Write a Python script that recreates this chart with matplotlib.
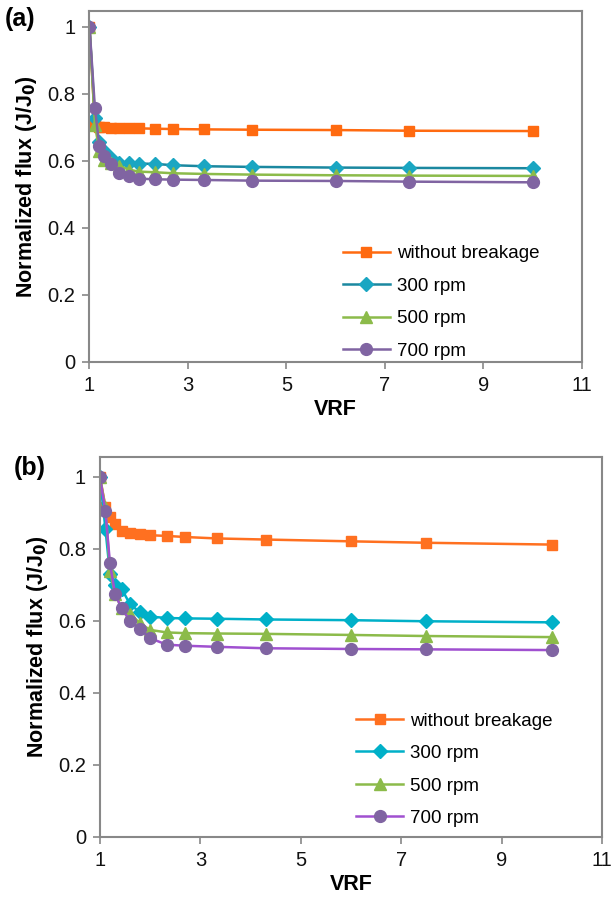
import matplotlib
matplotlib.use("Agg")
import matplotlib.pyplot as plt
from matplotlib.ticker import FuncFormatter

plt.rcParams['font.family'] = ['Liberation Sans', 'DejaVu Sans']

# Volume reduction factor
vrf = [1.0, 1.11, 1.2, 1.3, 1.43, 1.6, 1.8, 2.0, 2.33, 2.7, 3.33, 4.3, 6.0, 7.5, 10.0]

# (a) normalized flux
no_break_a = [1.0, 0.706, 0.702, 0.700, 0.699, 0.698, 0.698, 0.697, 0.696, 0.695, 0.694, 0.693, 0.692, 0.690, 0.689]
rpm300_a = [1.0, 0.728, 0.656, 0.630, 0.610, 0.594, 0.593, 0.592, 0.591, 0.587, 0.584, 0.582, 0.580, 0.579, 0.578]
rpm500_a = [1.0, 0.708, 0.630, 0.602, 0.593, 0.585, 0.574, 0.568, 0.566, 0.563, 0.561, 0.559, 0.557, 0.556, 0.555]
rpm700_a = [1.0, 0.757, 0.645, 0.614, 0.590, 0.564, 0.554, 0.547, 0.545, 0.544, 0.543, 0.541, 0.540, 0.538, 0.536]

# (b) normalized flux
no_break_b = [1.0, 0.917, 0.889, 0.868, 0.849, 0.843, 0.841, 0.838, 0.836, 0.833, 0.829, 0.826, 0.821, 0.817, 0.812]
rpm300_b = [1.0, 0.855, 0.731, 0.700, 0.690, 0.646, 0.624, 0.612, 0.608, 0.607, 0.606, 0.604, 0.602, 0.599, 0.596]
rpm500_b = [1.0, 0.915, 0.738, 0.676, 0.635, 0.620, 0.593, 0.575, 0.568, 0.566, 0.565, 0.564, 0.561, 0.558, 0.555]
rpm700_b = [1.0, 0.904, 0.760, 0.676, 0.635, 0.600, 0.577, 0.552, 0.534, 0.531, 0.528, 0.524, 0.522, 0.521, 0.519]

labels = ['without breakage', '300 rpm', '500 rpm', '700 rpm']
markers = ['s', 'D', '^', 'o']
msizes = [6.5, 7.5, 8.5, 8.5]

styles_a = [('#FF6A10', '#FF6A10'), ('#1B88A0', '#1AA6C2'), ('#8CBB4A', '#8CBB4A'), ('#8064A2', '#8064A2')]
styles_b = [('#FF7020', '#FF7020'), ('#00B0C8', '#00B0C8'), ('#8CBB4A', '#8CBB4A'), ('#A050D0', '#8064A2')]

GRAY = '#888888'


def draw_panel(ax, series, styles, ytop, leg_anchor):
    for vals, lab, mk, ms, (lc, mc) in zip(series, labels, markers, msizes, styles):
        ax.plot(vrf, vals, color=lc, lw=1.8, marker=mk, markersize=ms,
                markerfacecolor=mc, markeredgecolor=mc, label=lab)
    ax.set_xlim(1, 11)
    ax.set_ylim(0, ytop)
    ax.set_xticks([1, 3, 5, 7, 9, 11])
    ax.set_yticks([0, 0.2, 0.4, 0.6, 0.8, 1.0])
    ax.yaxis.set_major_formatter(FuncFormatter(lambda v, p: '%g' % round(v, 2)))
    for sp in ax.spines.values():
        sp.set_color(GRAY)
        sp.set_linewidth(1.5)
    ax.tick_params(direction='out', length=5, width=1.2, color=GRAY,
                   labelsize=14.5, pad=5, labelcolor='#111111')
    ax.set_xlabel('VRF', fontsize=15.5, fontweight='bold', labelpad=3)
    ax.set_ylabel(r'Normalized flux (J/J$_\mathbf{0}$)', fontsize=15.5,
                  fontweight='bold', labelpad=6)
    ax.legend(loc='lower left', bbox_to_anchor=leg_anchor, frameon=False,
              fontsize=13.5, handlelength=2.5, handletextpad=0.37,
              labelspacing=0.82, borderpad=0, borderaxespad=0)


fig = plt.figure(figsize=(6.13, 8.98), dpi=100)
ax_a = fig.add_axes([0.146, 0.597, 0.803, 0.391])
ax_b = fig.add_axes([0.163, 0.068, 0.819, 0.423])

draw_panel(ax_a, [no_break_a, rpm300_a, rpm500_a, rpm700_a], styles_a, 1.048, (0.515, 0.006))
draw_panel(ax_b, [no_break_b, rpm300_b, rpm500_b, rpm700_b], styles_b, 1.055, (0.511, 0.026))

fig.text(5 / 613, 1 - 19 / 898, '(a)', fontsize=18, fontweight='bold', va='center', ha='left')
fig.text(14 / 613, 1 - 468 / 898, '(b)', fontsize=18, fontweight='bold', va='center', ha='left')

fig.savefig('out.png', dpi=100)
